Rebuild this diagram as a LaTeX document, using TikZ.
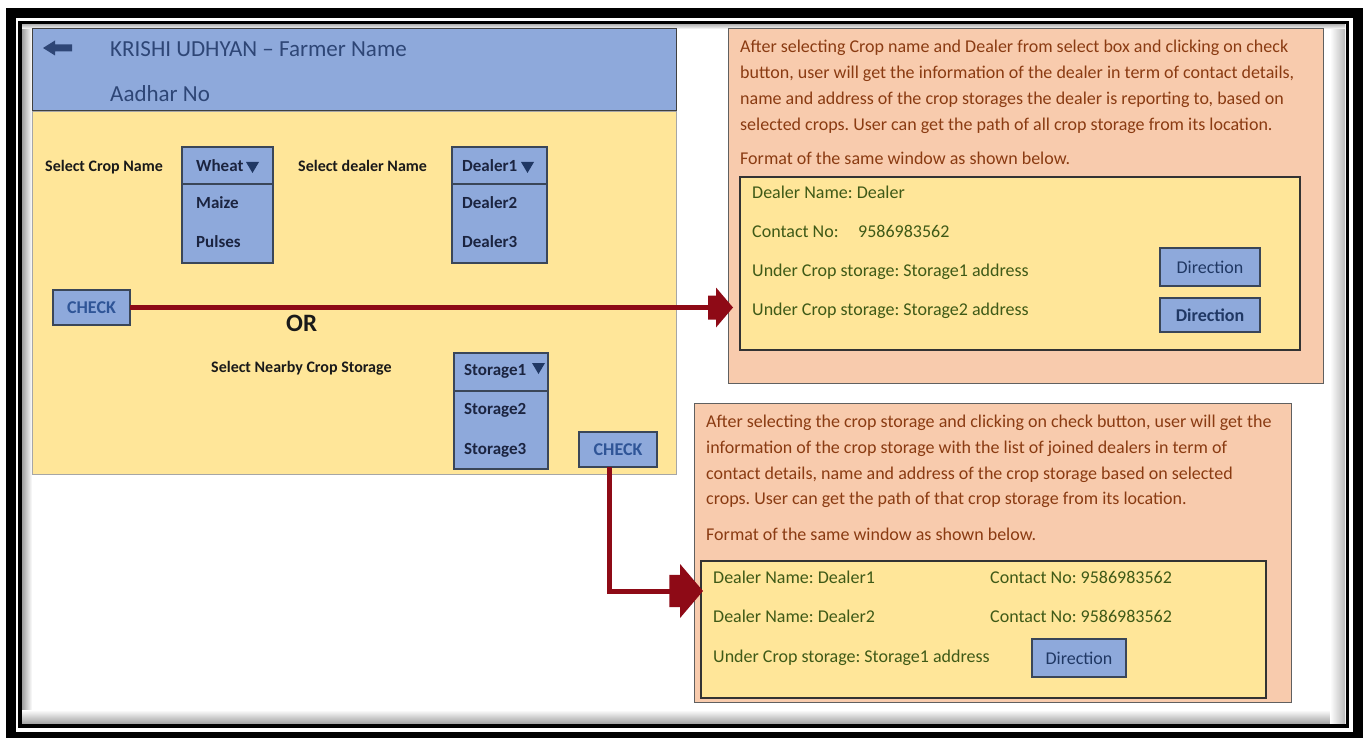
\documentclass[tikz,border=0pt]{standalone}
\usepackage{fontspec}
\setmainfont{Carlito}
\frenchspacing
\usetikzlibrary{calc}
\definecolor{hdrblue}{HTML}{8EA9DB}
\definecolor{panelyel}{HTML}{FFE699}
\definecolor{peach}{HTML}{F8CBAD}
\definecolor{brn}{HTML}{8A3B12}
\definecolor{dkgreen}{HTML}{3F5A17}
\definecolor{navy}{HTML}{203864}
\definecolor{hdrtext}{HTML}{2E4676}
\definecolor{chkblue}{HTML}{2F5597}
\definecolor{arrred}{HTML}{8E0A16}
\definecolor{boxline}{HTML}{3A4658}
\definecolor{ddtext}{HTML}{1B2440}
\definecolor{labelblk}{HTML}{1A1A1A}
\begin{document}
\begin{tikzpicture}[x=1pt,y=-1pt,line join=miter]
\tikzset{
  rbox/.style={anchor=north west, inner sep=0pt, outer sep=0pt},
  lbl/.style={anchor=base west, inner sep=0pt, font=\fontsize{16}{19}\selectfont\bfseries, text=labelblk},
  ptxt/.style={anchor=base west, inner sep=0pt, font=\fontsize{18}{22}\selectfont, text=brn},
  gtxt/.style={anchor=base west, inner sep=0pt, font=\fontsize{18}{22}\selectfont, text=dkgreen},
  ddtxt/.style={anchor=base west, inner sep=0pt, font=\fontsize{17}{20}\selectfont\bfseries, text=ddtext},
  htxt/.style={anchor=base west, inner sep=0pt, font=\fontsize{23}{27}\selectfont, text=hdrtext},
  btn/.style={rbox, draw=boxline, line width=1.2pt, fill=hdrblue},
  dirtxt/.style={font=\fontsize{18}{22}\selectfont, text=navy},
  chktxt/.style={font=\fontsize{18}{22}\selectfont\bfseries, text=chkblue},
  dropbox/.style={rbox, draw=boxline, line width=1.2pt, fill=hdrblue},
  wire/.style={draw=arrred, line width=5pt},
  blockhead/.pic={\fill[arrred] (-25,-12) -- (-17,-12) -- (-17,-20) -- (0,0) -- (-17,20) -- (-17,12) -- (-25,12) -- cycle;},
}
% canvas
\useasboundingbox (0,0) rectangle (1367,738);
\fill[white] (0,0) rectangle (1367,738);
% inner shadow of the frame
\shade[left color=gray!75, right color=white] (22,24) rectangle (32,724);
\shade[top color=white, bottom color=gray!75] (22,710) rectangle (1345,724);
\shade[left color=white, right color=gray!55] (1330,24) rectangle (1345,724);
\shade[top color=gray!60, bottom color=white] (22,24) rectangle (1345,29);
% frame
\draw[line width=10pt] (11,13) rectangle (1358,737);
\draw[line width=3.5pt] (20,22.3) rectangle (1347.5,726);

% ---------- left window ----------
\node[rbox, draw=gray!70, line width=0.8pt, fill=panelyel, minimum width=644pt, minimum height=363pt] (body) at (32,111) {};
\node[rbox, draw=black!75, line width=1pt, fill=hdrblue, minimum width=644pt, minimum height=82pt] (hdr) at (32,29) {};
\fill[hdrtext] (43,48) -- (55,40.5) -- (55,44.5) -- (72,44.5) -- (72,51.5) -- (55,51.5) -- (55,55.5) -- cycle;
\node[htxt] (title) at (110,57) {KRISHI UDHYAN -- Farmer Name};
\node[htxt] (aadhar) at (110,102) {Aadhar No};

\node[lbl] (lcrop) at (45,172) {Select Crop Name};
\node[lbl] (ldealer) at (298,172) {Select dealer Name};
\node[lbl] (lstore) at (211,372.5) {Select Nearby Crop Storage};

% crop dropdown
\node[dropbox, minimum width=91pt, minimum height=116pt] (dcrop) at (182,147) {};
\draw[boxline, line width=1.5pt] (182,184) -- (273,184);
\node[ddtxt] (wheat) at (196,172) {Wheat};
\fill[navy] (246,162) -- (259,162) -- (252.5,173) -- cycle;
\node[ddtxt] (maize) at (196,208.5) {Maize};
\node[ddtxt] (pulses) at (196,247.5) {Pulses};

% dealer dropdown
\node[dropbox, minimum width=95pt, minimum height=116pt] (ddeal) at (452,147) {};
\draw[boxline, line width=1.5pt] (452,184) -- (547,184);
\node[ddtxt] (deal1) at (462,172) {Dealer1};
\fill[navy] (521,162) -- (534,162) -- (527.5,173) -- cycle;
\node[ddtxt] (deal2) at (462,208.5) {Dealer2};
\node[ddtxt] (deal3) at (462,247.5) {Dealer3};

% storage dropdown
\node[dropbox, minimum width=94pt, minimum height=116pt] (dstore) at (454,353) {};
\draw[boxline, line width=1.5pt] (454,391) -- (548,391);
\node[ddtxt] (st1) at (464,375) {Storage1};
\fill[navy] (532,363) -- (545,363) -- (538.5,374) -- cycle;
\node[ddtxt] (st2) at (464,414) {Storage2};
\node[ddtxt] (st3) at (464,454) {Storage3};

% buttons
\node[btn, chktxt, minimum width=77pt, minimum height=35pt] (chk1) at (53,290) {CHECK};
\node[btn, chktxt, minimum width=78pt, minimum height=35pt] (chk2) at (579,432) {CHECK};
\node[anchor=base west, inner sep=0pt, font=\fontsize{25}{30}\selectfont\bfseries, text=labelblk] (or) at (286,331) {OR};

% ---------- top right panel ----------
\node[rbox, draw=gray!75!black, line width=0.9pt, fill=peach, minimum width=595pt, minimum height=355pt] (pA) at (728,28) {};
\node[ptxt] (a1) at (740,53) {After selecting Crop name and Dealer from select box and clicking on check};
\node[ptxt] (a2) at (740,79) {button, user will get the information of the dealer in term of contact details,};
\node[ptxt] (a3) at (740,105) {name and address of the crop storages the dealer is reporting to, based on};
\node[ptxt] (a4) at (740,131) {selected crops. User can get the path of all crop storage from its location.};
\node[ptxt] (a5) at (740,165) {Format of the same window as shown below.};
\node[rbox, draw=black!80, line width=1.3pt, fill=panelyel, minimum width=560pt, minimum height=173pt] (wA) at (740,177) {};
\node[gtxt] (a6) at (752,199) {Dealer Name: Dealer};
\node[gtxt] (a7) at (752,237) {Contact No:};
\node[gtxt] (a7n) at (858,237) {9586983562};
\node[gtxt] (a8) at (752,276) {Under Crop storage: Storage1 address};
\node[gtxt] (a9) at (752,315) {Under Crop storage: Storage2 address};
\node[btn, dirtxt, minimum width=100pt, minimum height=38pt] (dirA1) at (1160,248) {Direction};
\node[btn, dirtxt, font=\fontsize{18}{22}\selectfont\bfseries, minimum width=100pt, minimum height=34pt] (dirA2) at (1160,298) {Direction};

% ---------- bottom right panel ----------
\node[rbox, draw=gray!75!black, line width=0.9pt, fill=peach, minimum width=597pt, minimum height=299pt] (pB) at (694,403) {};
\node[ptxt] (b1) at (706,427) {After selecting the crop storage and clicking on check button, user will get the};
\node[ptxt] (b2) at (706,453) {information of the crop storage with the list of joined dealers in term of};
\node[ptxt] (b3) at (706,479) {contact details, name and address of the crop storage based on selected};
\node[ptxt] (b4) at (706,504) {crops. User can get the path of that crop storage from its location.};
\node[ptxt] (b5) at (706,540) {Format of the same window as shown below.};
\node[rbox, draw=black!80, line width=1.3pt, fill=panelyel, minimum width=565pt, minimum height=137pt] (wB) at (701,561) {};
\node[gtxt] (b6) at (713,583) {Dealer Name: Dealer1};
\node[gtxt] (b6c) at (990,583) {Contact No: 9586983562};
\node[gtxt] (b7) at (713,622) {Dealer Name: Dealer2};
\node[gtxt] (b7c) at (990,622) {Contact No: 9586983562};
\node[gtxt] (b8) at (713,662) {Under Crop storage: Storage1 address};
\node[btn, dirtxt, minimum width=94pt, minimum height=38pt] (dirB) at (1032,639) {Direction};

% ---------- connectors ----------
\coordinate (tip1) at ([xshift=5pt]chk1.east -| pA.west);
\draw[wire] (chk1.east) -- ([xshift=-20pt]tip1);
\pic at (tip1) {blockhead};
\coordinate (tip2) at ($(wB.west)+(2,-38.5)$);
\draw[wire] ([xshift=-9pt]chk2.south) |- ([xshift=-30pt]tip2);
\pic[scale=1.35] at (tip2) {blockhead};
\end{tikzpicture}
\end{document}
